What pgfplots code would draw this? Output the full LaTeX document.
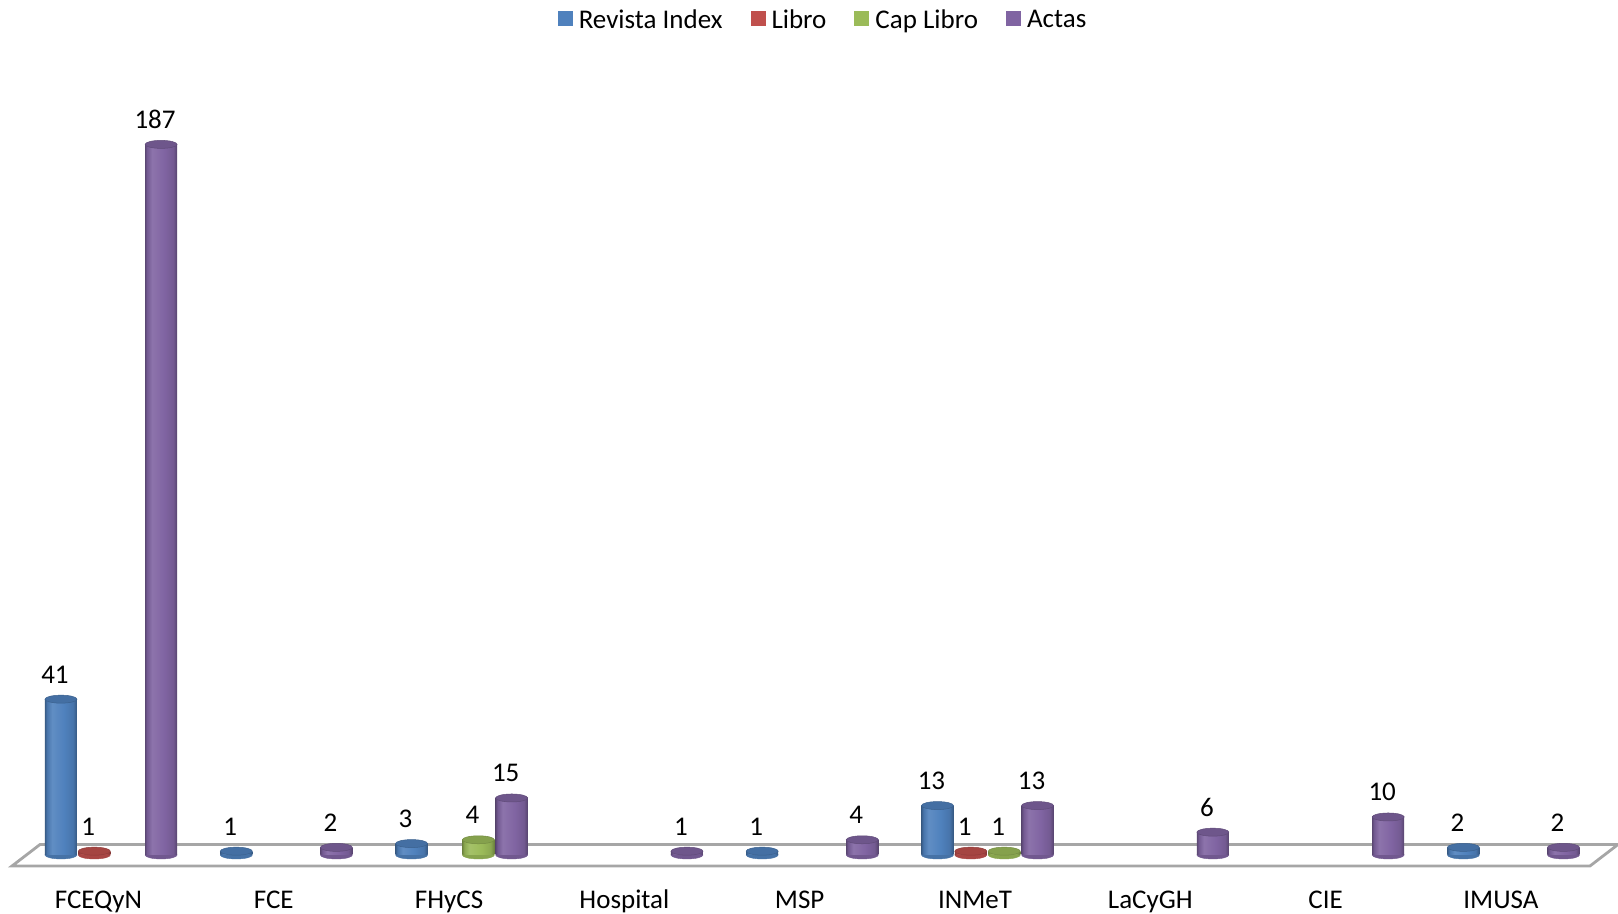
\documentclass[border=0pt]{standalone}
\usepackage{pgfplots}
\pgfplotsset{compat=1.18}
\usepackage{pgfplotstable}
\usepackage{fontspec}
\setmainfont{Carlito}

\definecolor{cRev}{HTML}{4F81BD}
\definecolor{cLib}{HTML}{C0504D}
\definecolor{cCap}{HTML}{9BBB59}
\definecolor{cAct}{HTML}{8064A2}
\definecolor{floorline}{HTML}{A6A6A6}

% horizontal shading that gives a bar a rounded, cylinder-like side
\newcommand{\cylshade}[2]{%
  \pgfdeclarehorizontalshading{#1}{100bp}{%
    color(0bp)=(#2!72!black); color(25bp)=(#2!72!black);
    color(28bp)=(#2!90!black); color(36bp)=(#2!90!white);
    color(55bp)=(#2); color(69bp)=(#2!90!black);
    color(75bp)=(#2!68!black); color(100bp)=(#2!68!black)}}
\cylshade{shRev}{cRev}
\cylshade{shLib}{cLib}
\cylshade{shCap}{cCap}
\cylshade{shAct}{cAct}

% publications per unit and type (nan = none)
\pgfplotstableread{
cat      rev lib cap act
FCEQyN   41  1   nan 187
FCE      1   nan nan 2
FHyCS    3   nan 4   15
Hospital nan nan nan 1
MSP      1   nan nan 4
INMeT    13  1   1   13
LaCyGH   nan nan nan 6
CIE      nan nan nan 10
IMUSA    2   nan nan 2
}\data

\newcommand{\labfont}{\fontsize{13.5}{16}\selectfont}

% one series of cylinders: #1 column, #2 colour, #3 shading, #4 offset within the group
\newcommand{\cylinders}[4]{%
  % lower rim
  \addplot[forget plot, only marks, mark=*, mark size=8pt,
    mark options={yscale=0.25, fill=#2!88!black, draw=#2!88!black, line width=0.2pt}]
    table[x expr=\coordindex+#4, y expr=\thisrow{#1}-\thisrow{#1}] {\data};
  % body, one path per bar so that each gets its own shading
  \pgfplotsinvokeforeach{0,...,8}{%
    \addplot[forget plot, ybar, bar width=16pt, bar shift=0pt, draw=none,
      shade, shading=#3, nodes near coords,
      restrict expr to domain={\coordindex}{##1:##1}]
      table[x expr=\coordindex+#4, y=#1] {\data};
  }
  % top face
  \addplot[forget plot, only marks, mark=*, mark size=8pt,
    mark options={yscale=0.25, fill=#2!86!black, draw=#2!75!black, line width=0.25pt}]
    table[x expr=\coordindex+#4, y=#1] {\data};
}

\begin{document}
\begin{tikzpicture}[font=\labfont]
\begin{axis}[
  at={(0,0)}, anchor=south west,
  scale only axis, width=809pt, height=457pt,
  xmin=-0.5619, xmax=8.668, ymin=-15.53, ymax=225,
  clip=false, clip marker paths=true,
  axis line style={draw=none},
  ytick=\empty,
  xtick={0,...,8},
  xticklabels={FCEQyN,FCE,FHyCS,Hospital,MSP,INMeT,LaCyGH,CIE,IMUSA},
  xtick style={draw=none},
  major tick length=0pt,
  xticklabel style={anchor=base, yshift=2.5pt, font=\labfont},
  /pgf/number format/assume math mode=true,
  every node near coord/.append style={anchor=base, yshift=8pt, xshift=-3pt, font=\labfont, text=black},
  legend columns=4,
  legend cell align=left,
  legend style={at={(axis description cs:0.5093,0.9775)}, anchor=center,
    draw=none, fill=none, inner sep=0pt, font=\labfont,
    /tikz/every even column/.append style={column sep=12pt}},
  legend image code/.code={\fill[#1, draw=none] (0pt,-2.5pt) rectangle (7.5pt,5pt);
    \path[draw=none, fill=none] (7.5pt,0pt) -- (8.5pt,0pt);},
]
\addlegendimage{fill=cRev}\addlegendentry{Revista Index}
\addlegendimage{fill=cLib}\addlegendentry{Libro}
\addlegendimage{fill=cCap}\addlegendentry{Cap Libro}
\addlegendimage{fill=cAct}\addlegendentry{Actas}

% floor of the chart
\draw[floorline, line width=1.4pt, fill=white, line join=miter]
  (rel axis cs:0.00742,0.0525) -- (rel axis cs:0.98269,0.0525)
  -- (rel axis cs:1,0.0760) -- (rel axis cs:0.02472,0.0760) -- cycle;

\cylinders{rev}{cRev}{shRev}{-0.214}
\cylinders{lib}{cLib}{shLib}{-0.024}
\cylinders{cap}{cCap}{shCap}{0.167}
\cylinders{act}{cAct}{shAct}{0.357}
\end{axis}
\pgfresetboundingbox
\path[use as bounding box] (0,0) rectangle (809pt,457pt);
\end{tikzpicture}
\end{document}
